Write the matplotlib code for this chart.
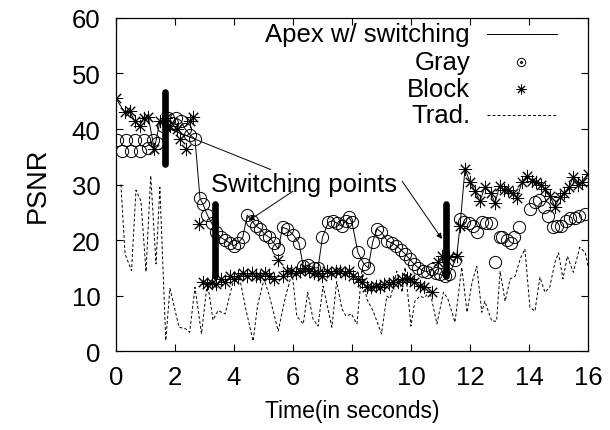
import matplotlib
matplotlib.use("Agg")
import matplotlib.pyplot as plt
from matplotlib.lines import Line2D

plt.rcParams['font.family'] = ['Liberation Sans', 'DejaVu Sans']

# ---------------- data ----------------
gray_t = [0.05, 0.2, 0.35, 0.5, 0.65, 0.8, 0.95, 1.1, 1.25, 1.4,
          1.6, 1.75, 1.9, 2.05, 2.2, 2.35, 2.5, 2.68,
          2.85, 2.95, 3.1, 3.25, 3.4, 3.55, 3.7, 3.85, 4.0, 4.15, 4.3, 4.45,
          4.6, 4.75, 4.9, 5.05, 5.2, 5.35, 5.5, 5.65, 5.8, 6.0, 6.2, 6.35,
          6.5, 6.7, 6.85, 7.0, 7.2, 7.35, 7.5, 7.65, 7.8, 7.9, 8.0, 8.2,
          8.4, 8.55, 8.7, 8.85, 9.0, 9.2, 9.35, 9.5, 9.65, 9.8, 9.95, 10.1,
          10.25, 10.4, 10.55, 10.7, 10.85, 11.0, 11.15, 11.3,
          11.5, 11.66, 11.8, 11.95, 12.1, 12.25, 12.4, 12.55, 12.7, 12.85,
          13.0, 13.1, 13.25, 13.4, 13.5, 13.65, 14.03, 14.2, 14.35, 14.5,
          14.65, 14.8, 14.95, 15.1, 15.25, 15.4, 15.55, 15.7, 15.9]
gray_v = [38, 36, 38, 36, 38, 36, 38, 36.5, 38, 37.5,
          40.5, 42, 41, 42, 41.5, 40, 39, 38.2,
          27.5, 26.5, 24.5, 23, 21.5, 20.5, 20, 19.5, 19, 19.5, 20.5, 24.5,
          23.5, 22.5, 22, 21, 20.5, 19.5, 18.4, 22.3, 22, 21, 19.5, 15.3,
          15.5, 15, 15, 20.5, 23.2, 23.5, 23, 22.5, 23.5, 24.1, 23.2, 17.8,
          15.7, 15, 19.6, 22, 21.4, 19.8, 19.5, 19, 18.3, 17.5, 16.6, 15.7,
          15, 14.5, 14.3, 14.8, 14, 13.8, 13.5, 13.8,
          16.5, 23.8, 23.3, 23, 22.5, 21.5, 23.3, 23, 23, 16,
          20.5, 20.5, 20, 19.5, 20.5, 22.3, 25.6, 26.8, 27.2, 26,
          24.4, 22.3, 22.6, 22.6, 23.5, 24, 24, 24.4, 24.7]

block_t = [0.0, 0.3, 0.47, 0.64, 0.8, 0.95, 1.1, 1.3, 1.5, 1.7, 1.85,
           2.07, 2.17, 2.37, 2.5, 2.6, 2.8, 2.95, 3.1, 3.25, 3.4, 3.55,
           3.7, 3.85, 4.0, 4.15, 4.3, 4.45, 4.6, 4.75, 4.9, 5.05, 5.2,
           5.35, 5.5, 5.65, 5.8, 5.95, 6.1, 6.25, 6.4, 6.55, 6.7, 6.85,
           7.0, 7.15, 7.3, 7.45, 7.6, 7.75, 7.9, 8.05, 8.2, 8.35, 8.5,
           8.65, 8.8, 8.95, 9.1, 9.25, 9.4, 9.55, 9.7, 9.85, 9.97, 10.1,
           10.3, 10.45, 10.7, 10.9, 11.05, 11.3, 11.55, 11.66, 11.83,
           12.0, 12.17, 12.34, 12.5, 12.7, 12.85, 13.0, 13.15, 13.3,
           13.45, 13.6, 13.75, 13.93, 14.1, 14.25, 14.4, 14.54, 14.7,
           14.88, 15.05, 15.2, 15.35, 15.5, 15.65, 15.8, 16.0]
block_v = [45.5, 43, 43.2, 41.4, 40.5, 42, 42.1, 36.4, 41.5, 42, 40.5,
           40, 38.2, 36.4, 41.5, 42.1, 22.9, 12.4, 12, 12.3, 12, 13,
           12.5, 13.5, 13, 13.5, 14, 13.5, 14, 13.5, 13.5, 14, 13.5,
           13, 16.5, 13.5, 14.5, 14.5, 14, 14.5, 15, 14.5, 14, 14,
           13.5, 14.5, 14, 14.5, 14.5, 14, 14.5, 13.5, 13, 12.5, 11.5,
           11.5, 11.8, 11.5, 12, 12, 12.5, 12.5, 13, 13.2, 13, 12.4,
           11.7, 11.5, 10.6, 16, 17.1, 16.9, 17.1, 22.5, 32.8,
           30.5, 28.8, 27, 29.5, 28.5, 26.7, 29.7, 29, 29,
           28.5, 27.5, 30.4, 31.5, 30.6, 30.5, 30, 29.2, 28,
           26, 27.8, 28.4, 29.5, 31.3, 30, 30.5, 31.9]

apex_t = [0.0, 0.3, 0.47, 0.64, 0.8, 0.95, 1.1, 1.3, 1.5,
          1.6, 1.75, 1.9, 2.05, 2.2, 2.35, 2.5, 2.68,
          2.85, 2.95, 3.1, 3.25, 3.4, 3.55, 3.7, 3.85, 4.0, 4.15, 4.3, 4.45,
          4.6, 4.75, 4.9, 5.05, 5.2, 5.35, 5.5, 5.65, 5.8, 6.0, 6.2, 6.35,
          6.5, 6.7, 6.85, 7.0, 7.2, 7.35, 7.5, 7.65, 7.8, 7.9, 8.0, 8.2,
          8.4, 8.55, 8.7, 8.85, 9.0, 9.2, 9.35, 9.5, 9.65, 9.8, 9.95, 10.1,
          10.25, 10.4, 10.55, 10.7, 10.85, 11.0, 11.15, 11.3,
          11.55, 11.66, 11.83,
          12.0, 12.17, 12.34, 12.5, 12.7, 12.85, 13.0, 13.15, 13.3,
          13.45, 13.6, 13.75, 13.93, 14.1, 14.25, 14.4, 14.54, 14.7,
          14.88, 15.05, 15.2, 15.35, 15.5, 15.65, 15.8, 16.0]
apex_v = [45.5, 43, 43.2, 41.4, 40.5, 42, 42.1, 36.4, 41.5,
          40.5, 42, 41, 42, 41.5, 40, 39, 38.2,
          27.5, 26.5, 24.5, 23, 21.5, 20.5, 20, 19.5, 19, 19.5, 20.5, 24.5,
          23.5, 22.5, 22, 21, 20.5, 19.5, 18.4, 22.3, 22, 21, 19.5, 15.3,
          15.5, 15, 15, 20.5, 23.2, 23.5, 23, 22.5, 23.5, 24.1, 23.2, 17.8,
          15.7, 15, 19.6, 22, 21.4, 19.8, 19.5, 19, 18.3, 17.5, 16.6, 15.7,
          15, 14.5, 14.3, 14.8, 14, 13.8, 13.5, 13.8,
          17.1, 22.5, 32.8,
          30.5, 28.8, 27, 29.5, 28.5, 26.7, 29.7, 29, 29,
          28.5, 27.5, 30.4, 31.5, 30.6, 30.5, 30, 29.2, 28,
          26, 27.8, 28.4, 29.5, 31.3, 30, 30.5, 31.9]

trad_t = [0.17, 0.31, 0.53, 0.68, 0.85, 1.02, 1.18, 1.36, 1.49, 1.69,
          1.83, 2.14, 2.37, 2.5, 2.68, 2.9, 3.1, 3.29, 3.46, 3.7, 3.97,
          4.2, 4.4, 4.65, 4.8, 5.02, 5.2, 5.5, 5.73, 5.97, 6.13, 6.35,
          6.5, 6.68, 6.85, 7.02, 7.32, 7.48, 7.66, 7.8, 7.98, 8.17, 8.34,
          8.5, 8.72, 9.0, 9.18, 9.3, 9.52, 9.7, 9.8, 10.0, 10.13, 10.3,
          10.45, 10.64, 10.88, 11.1, 11.25, 11.49, 11.72, 11.9, 12.07,
          12.23, 12.4, 12.5, 12.74, 12.9, 13.02, 13.19, 13.36, 13.53,
          13.7, 13.86, 14.03, 14.2, 14.37, 14.54, 14.7, 14.88, 15.0,
          15.15, 15.3, 15.5, 15.72, 15.9, 16.0]
trad_v = [30, 17.5, 14.5, 29, 27, 14.3, 31.6, 15.7, 29.5, 1.9,
          11.3, 4.3, 4, 3.4, 11.5, 3.1, 12.5, 5.6, 7.3, 6.7, 12.4,
          13, 7.6, 1.8, 8.2, 13, 10, 3.6, 9.4, 14.2, 6.3, 4.9,
          10.6, 5.8, 4.5, 11.7, 4.3, 12.5, 7.6, 6.3, 6.7, 4.9, 14.8,
          9.4, 7.2, 3.1, 9.9, 9.5, 14.4, 10.6, 15.1, 4.5, 9, 9.9,
          9.6, 10.8, 4.9, 10.6, 9.4, 5.2, 15.1, 7, 12.4,
          15.3, 7, 9, 5.4, 5.4, 14.4, 9, 13, 13.5,
          16.6, 18.4, 7.9, 7.2, 13.3, 10.6, 11.5, 16, 17.7,
          13, 17.1, 14.2, 18.7, 17.8, 15.3]

switch_t = [1.68, 3.36, 11.19]
switch_lo = [33.7, 13.5, 13.5]
switch_hi = [46.7, 26.5, 26.5]
switch_pt = [40.3, 19.8, 20.2]

xticks = [0, 2, 4, 6, 8, 10, 12, 14, 16]
yticks = [0, 10, 20, 30, 40, 50, 60]

FS = 18.5

# ---------------- figure ----------------
fig = plt.figure(figsize=(6.10, 4.31), dpi=100)
ax = fig.add_axes([0.190, 0.183, 0.774, 0.773])

ax.plot(trad_t, trad_v, color='black', lw=0.7, ls=(0, (3, 2.2)))
ax.plot(apex_t, apex_v, color='black', lw=0.7)
ax.plot(gray_t, gray_v, ls='none', marker='o', ms=8.8, mfc='none',
        mec='black', mew=0.7)
ax.plot(block_t, block_v, ls='none', marker=(8, 2, 0), ms=9.5,
        mec='black', mew=0.7)

ax.vlines(switch_t, switch_lo, switch_hi, colors='black', lw=4.8,
          capstyle='round')

# annotation
ax.text(3.22, 30.1, 'Switching points', fontsize=FS, ha='left', va='center')
arrow_kw = dict(arrowstyle='-|>', lw=0.7, color='black', mutation_scale=8,
                shrinkA=0, shrinkB=0)
ax.annotate('', xy=(switch_t[0], switch_pt[0]), xytext=(5.25, 32.7),
            arrowprops=arrow_kw)
ax.annotate('', xy=(4.5, 23.5), xytext=(6.0, 28.8), arrowprops=arrow_kw)
ax.annotate('', xy=(11.05, switch_pt[2]), xytext=(9.7, 30.6),
            arrowprops=arrow_kw)

ax.set_xlim(0, 16)
ax.set_ylim(0, 60)
ax.set_xticks(xticks)
ax.set_yticks(yticks)
ax.tick_params(direction='in', length=5, width=0.8, top=True, right=True,
               labelsize=FS)
ax.tick_params(axis='x', pad=10)
ax.tick_params(axis='y', pad=11)
for s in ax.spines.values():
    s.set_linewidth(0.9)

ax.set_xlabel('Time(in seconds)', fontsize=16.5, labelpad=7)
ax.set_ylabel('PSNR', fontsize=19.5, labelpad=15)

# legend (gnuplot style: right-aligned text, sample at right)
rows_y = [0.952, 0.868, 0.787, 0.709]
labels = ['Apex w/ switching', 'Gray', 'Block', 'Trad.']
tx = 0.75
for yy, lab in zip(rows_y, labels):
    ax.text(tx, yy, lab, transform=ax.transAxes, fontsize=FS, ha='right',
            va='center')
ax.add_line(Line2D([0.786, 0.934], [rows_y[0]] * 2, transform=ax.transAxes,
                   color='black', lw=0.7))
ax.add_line(Line2D([0.858], [rows_y[1]], transform=ax.transAxes, marker='o',
                   ms=6, mfc='none', mec='black', mew=0.7))
ax.add_line(Line2D([0.858], [rows_y[1]], transform=ax.transAxes, marker='o',
                   ms=1.2, mfc='black', mec='black'))
ax.add_line(Line2D([0.858], [rows_y[2]], transform=ax.transAxes,
                   marker=(8, 2, 0), ms=7, mec='black', mew=0.7))
ax.add_line(Line2D([0.786, 0.934], [rows_y[3]] * 2, transform=ax.transAxes,
                   color='black', lw=0.7, ls=(0, (3, 2.2))))

fig.savefig('out.png', dpi=100)
